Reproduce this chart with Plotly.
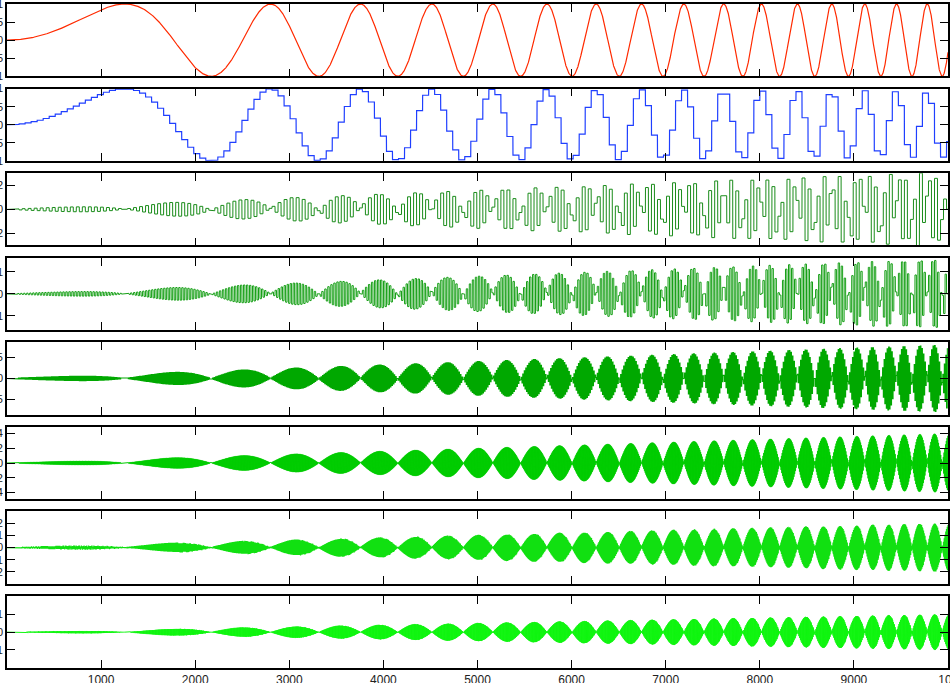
import numpy as np
import plotly.graph_objects as go
from plotly.subplots import make_subplots

# Linear chirp sampled at n_samples points: sin(pi/2 * (t / t_crest)^2)
n_samples = 10000
t_crest = 1252.0          # position of the first crest
haar_levels = 6

# Axis settings per panel (top to bottom)
panel_ranges = [1.0, 1.0, 0.3, 0.164, 0.086, 0.049, 0.0298, 0.0203]
panel_ticks = [
    [-1, -0.5, 0, 0.5, 1],
    [-1, -0.5, 0, 0.5, 1],
    [-0.2, 0, 0.2],
    [-0.1, 0, 0.1],
    [-0.05, 0, 0.05],
    [-0.04, -0.02, 0, 0.02, 0.04],
    [-0.02, -0.01, 0, 0.01, 0.02],
    [-0.01, 0, 0.01],
]
panel_colors = ["#ff2a00", "#1f3fff", "#1a8c1a", "#159f15", "#00a800",
                "#00cc00", "#11e011", "#11f511"]
x_ticks = [1000, 2000, 3000, 4000, 5000, 6000, 7000, 8000, 9000, 10000]

t = np.arange(1, n_samples + 1)
signal = np.sin(0.5 * np.pi * ((t - 1) / t_crest) ** 2)


def block_mean(x, size):
    out = np.empty_like(x)
    for s in range(0, len(x), size):
        out[s:s + size] = x[s:s + size].mean()
    return out


# Haar multiresolution: approximations A_j and details D_j = A_{j-1} - A_j
approx = [signal] + [block_mean(signal, 2 ** j) for j in range(1, haar_levels + 1)]
details = [approx[j - 1] - approx[j] for j in range(1, haar_levels + 1)]

series = [signal, approx[haar_levels]] + [details[j - 1] for j in range(haar_levels, 0, -1)]

W, H = 950, 683
ml, mr, mt, mb = 7, 2, 4, 14
plot_h = H - mt - mb
panel_top_px = [4 + 84.57 * k for k in range(8)]
panel_h_px = 72.3
line_widths = [1.2, 1.2, 1.0, 1.0, 1.1, 1.0, 1.2, 1.0]

fig = make_subplots(rows=8, cols=1)

y_font = dict(family="Liberation Sans", size=11, color="#222")
x_font = dict(family="Liberation Sans", size=12, color="#222")
for k, (y, col) in enumerate(zip(series, panel_colors)):
    fig.add_trace(go.Scatter(x=t, y=y, mode="lines",
                             line=dict(color=col, width=line_widths[k]),
                             hoverinfo="skip", showlegend=False),
                  row=k + 1, col=1)
    top = panel_top_px[k]
    bot = top + panel_h_px
    d0 = (H - mb - bot) / plot_h
    d1 = (H - mb - top) / plot_h
    xa = "xaxis" if k == 0 else f"xaxis{k + 1}"
    ya = "yaxis" if k == 0 else f"yaxis{k + 1}"
    fig.layout[ya].update(domain=[max(d0, 0), min(d1, 1)],
                          range=[-panel_ranges[k], panel_ranges[k]],
                          tickvals=panel_ticks[k], automargin=False,
                          ticklabeloverflow="allow",
                          ticks="inside", ticklen=8, tickwidth=1.2, tickcolor="black",
                          showline=True, linecolor="black", linewidth=1.6,
                          mirror="ticks", showgrid=False, zeroline=False,
                          tickfont=y_font)
    fig.layout[xa].update(range=[0, n_samples], tickvals=x_ticks, automargin=False,
                          ticklabeloverflow="allow",
                          ticks="inside", ticklen=8, tickwidth=1.2, tickcolor="black",
                          showline=True, linecolor="black", linewidth=1.6,
                          mirror="ticks", showgrid=False, zeroline=False,
                          showticklabels=(k == 7), tickfont=x_font)

fig.update_layout(width=W, height=H, margin=dict(l=ml, r=mr, t=mt, b=mb),
                  plot_bgcolor="white", paper_bgcolor="white")

fig.write_html("out.html")
